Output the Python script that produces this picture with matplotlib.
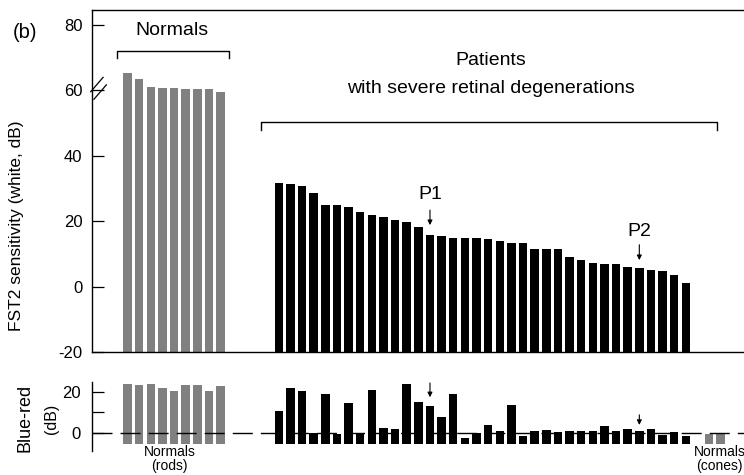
import numpy as np
import matplotlib
matplotlib.use('Agg')
import matplotlib.pyplot as plt
import matplotlib.transforms as mtransforms

plt.rcParams['font.family'] = ['Liberation Sans', 'DejaVu Sans']
plt.rcParams['axes.unicode_minus'] = False

# ----- data -----
rods_fst2 = [65.3, 63.4, 61.2, 60.8, 60.8, 60.4, 60.4, 60.4, 59.5]
patients_fst2 = [31.6, 31.3, 30.7, 28.5, 24.9, 24.9, 24.4, 22.8, 21.8, 21.3,
                 20.4, 19.9, 18.1, 15.8, 15.4, 14.9, 14.9, 14.9, 14.5, 14.1,
                 13.3, 13.3, 11.4, 11.4, 11.4, 9.0, 8.1, 7.3, 6.9, 6.9,
                 6.0, 5.6, 5.1, 4.7, 3.7, 1.0]

rods_bluered = [24.1, 23.5, 24.1, 21.9, 20.4, 23.5, 23.5, 20.4, 22.9]
patients_bluered = [10.9, 22.0, 20.6, 0.0, 19.0, -0.6, 14.5, 0.0, 21.1, 2.1,
                    1.6, 24.1, 15.3, 13.2, 7.9, 19.0, -2.8, 0.0, 3.6, 0.8,
                    13.9, -1.8, 0.7, 1.5, 0.5, 0.7, 0.7, 0.7, 3.5, 0.7,
                    2.0, 1.0, 2.0, -1.0, 0.5, -1.8]
cones_bluered = [-0.8, -0.8]

p1_idx, p2_idx = 13, 31  # position within the patient list

# bar positions (slots)
rods_x = np.arange(len(rods_fst2))
patients_x = 13 + np.arange(len(patients_fst2))
cones_x = np.array([50, 51])

gray = '#808080'
bw = 0.73
xlim = (-3.06, 53.0)

fig = plt.figure(figsize=(7.44, 4.75), dpi=100)
ax1 = fig.add_axes([92 / 744, 123 / 475, 652 / 744, 342 / 475])
ax2 = fig.add_axes([92 / 744, 24 / 475, 652 / 744, 69.3 / 475])

# ----- top panel: FST2 sensitivity -----
bot = -20
ax1.bar(rods_x, np.array(rods_fst2) - bot, width=bw, bottom=bot, color=gray)
ax1.bar(patients_x, np.array(patients_fst2) - bot, width=bw, bottom=bot, color='black')
ax1.set_xlim(*xlim)
ax1.set_ylim(-20, 84.6)
ax1.set_yticks([-20, 0, 20, 40, 60, 80])
ax1.set_xticks([])
ax1.spines['right'].set_visible(False)
for s in ['left', 'top', 'bottom']:
    ax1.spines[s].set_linewidth(1.0)
ax1.tick_params(axis='y', direction='in', length=8.5, width=0.9, pad=7, labelsize=12)

# axis break mark on the spine
bt = mtransforms.blended_transform_factory(ax1.transAxes, ax1.transData)
ax1.plot([-0.002, 0.017], [59.6, 64.0], transform=bt, color='black', lw=0.9, clip_on=False)
ax1.plot([0.003, 0.022], [57.3, 61.7], transform=bt, color='black', lw=0.9, clip_on=False)

# brackets
ax1.plot([-0.94, -0.94, 8.72, 8.72], [70.0, 72.2, 72.2, 70.0], color='black', lw=1.0)
ax1.plot([11.47, 11.47, 50.65, 50.65], [48.0, 50.3, 50.3, 48.0], color='black', lw=1.0)
ax1.text(3.8, 78.3, 'Normals', ha='center', va='center', fontsize=14)
ax1.text(31.2, 69.1, 'Patients', ha='center', va='center', fontsize=14)
ax1.text(31.2, 60.5, 'with severe retinal degenerations', ha='center', va='center', fontsize=14)

# P1 / P2 markers
arrow = dict(arrowstyle='-|>', lw=0.8, color='black', mutation_scale=7, shrinkA=0, shrinkB=0)
p1x, p2x = patients_x[p1_idx], patients_x[p2_idx]
ax1.text(p1x, 28.2, 'P1', ha='center', va='center', fontsize=14)
ax1.annotate('', xy=(p1x, patients_fst2[p1_idx] + 3.0), xytext=(p1x, 23.4), arrowprops=arrow)
ax1.text(p2x, 16.9, 'P2', ha='center', va='center', fontsize=14)
ax1.annotate('', xy=(p2x, patients_fst2[p2_idx] + 2.5), xytext=(p2x, 12.8), arrowprops=arrow)

# ----- bottom panel: blue-red difference -----
base = -5.6
ax2.bar(rods_x, np.array(rods_bluered) - base, width=bw, bottom=base, color=gray, zorder=2)
ax2.bar(cones_x, np.array(cones_bluered) - base, width=bw, bottom=base, color=gray, zorder=2)
ax2.bar(patients_x, np.array(patients_bluered) - base, width=bw, bottom=base, color='black', zorder=2)
ax2.axhline(0, color='black', lw=1.0, dashes=(14.4, 5.8), zorder=3)
ax2.set_xlim(*xlim)
ax2.set_ylim(-9.1, 25.2)
ax2.set_yticks([0, 10, 20])
ax2.set_yticklabels(['0', '', '20'])
ax2.set_xticks([])
for s in ['right', 'top', 'bottom']:
    ax2.spines[s].set_visible(False)
ax2.spines['left'].set_linewidth(1.0)
ax2.tick_params(axis='y', direction='in', length=8.5, width=0.9, pad=8, labelsize=12)

ax2.annotate('', xy=(p1x, patients_bluered[p1_idx] + 4.3), xytext=(p1x, 24.6), arrowprops=arrow)
ax2.annotate('', xy=(p2x, patients_bluered[p2_idx] + 2.8), xytext=(p2x, 8.8), arrowprops=arrow)

for xc, lines in [(3.6, ('Normals', '(rods)')), (50.9, ('Normals', '(cones)'))]:
    ax2.text(xc, -9.4, lines[0], ha='center', va='center', fontsize=10, clip_on=False)
    ax2.text(xc, -16.6, lines[1], ha='center', va='center', fontsize=10, clip_on=False)

# ----- figure labels -----
fig.text(25 / 744, 1 - 32 / 475, '(b)', ha='center', va='center', fontsize=14.5)
fig.text(17 / 744, 1 - 226 / 475, 'FST2 sensitivity (white, dB)', rotation=90,
         ha='center', va='center', fontsize=12.5)
fig.text(25 / 744, 1 - 418 / 475, 'Blue-red', rotation=90, ha='center', va='center', fontsize=13)
fig.text(52 / 744, 1 - 419 / 475, '(dB)', rotation=90, ha='center', va='center', fontsize=11.5)

fig.savefig('out.png', dpi=100)
